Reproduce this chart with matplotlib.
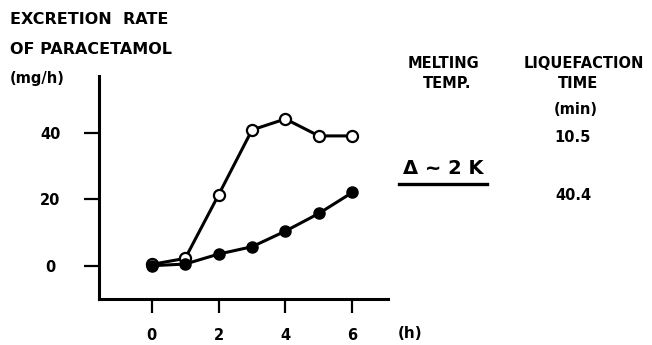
import matplotlib.pyplot as plt
from matplotlib.lines import Line2D

hours = [0, 1, 2, 3, 4, 5, 6]
open_rate = [0.4, 2.2, 21.3, 40.8, 44.1, 39.0, 39.0]
filled_rate = [0.0, 0.5, 3.5, 5.7, 10.4, 15.7, 22.0]
x_ticks = [0, 2, 4, 6]
y_ticks = [0, 20, 40]

W, H = 652, 345
fig = plt.figure(figsize=(W / 100, H / 100), dpi=100)
ax = fig.add_axes([99 / W, 46 / H, 289 / W, 223 / H])

ax.plot(hours, open_rate, color="black", lw=2.2, marker="o", ms=8,
        mfc="white", mec="black", mew=1.6, zorder=3)
ax.plot(hours, filled_rate, color="black", lw=2.2, marker="o", ms=8,
        mfc="black", mec="black", zorder=3)

ax.set_xlim(-1.58, 7.07)
ax.set_ylim(-10, 57)
ax.spines[["top", "right"]].set_visible(False)
ax.spines[["left", "bottom"]].set_linewidth(2.2)
ax.set_xticks(x_ticks)
ax.set_yticks(y_ticks)
ax.set_xticklabels([str(t) for t in x_ticks], fontweight="bold", fontsize=10.5)
ax.set_yticklabels([str(t) for t in y_ticks], fontweight="bold", fontsize=10.5,
                   ha="center")
ax.tick_params(axis="x", length=10, width=1.6, pad=11)
ax.tick_params(axis="y", length=11, width=1.6, pad=24)


def txt(x, y, s, size=10.5, ha="center"):
    fig.text(x / W, 1 - y / H, s, fontsize=size, fontweight="bold",
             ha=ha, va="center")


txt(10, 19, "EXCRETION  RATE", 11.5, "left")
txt(10, 50, "OF PARACETAMOL", 11.5, "left")
txt(10, 78, "(mg/h)", 10.5, "left")
txt(410, 333, "(h)", 11)

txt(444, 63, "MELTING")
txt(447, 84, "TEMP.")
txt(584, 63, "LIQUEFACTION")
txt(578, 84, "TIME")
txt(576, 110, "(min)")
txt(573, 137, "10.5")
txt(573, 196, "40.4")
txt(443, 168, "Δ ~ 2 K", 14)
fig.add_artist(Line2D([399 / W, 487 / W], [1 - 184 / H, 1 - 184 / H],
                      color="black", lw=2.4))

fig.savefig("out.png", dpi=100)
